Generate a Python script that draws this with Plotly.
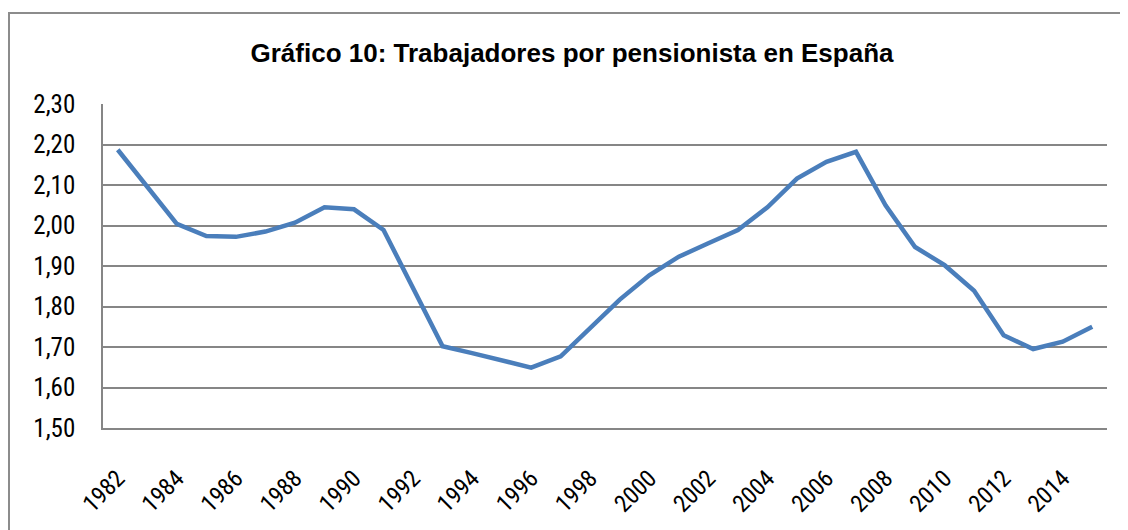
import plotly.graph_objects as go

years = [str(y) for y in range(1982, 2016)]
values = [2.187, 2.096, 2.004, 1.974, 1.972, 1.985, 2.007, 2.045, 2.040, 1.989,
          1.846, 1.702, 1.685, 1.667, 1.649, 1.677, 1.746, 1.817, 1.877, 1.923,
          1.956, 1.989, 2.045, 2.116, 2.157, 2.182, 2.050, 1.947, 1.902, 1.839,
          1.729, 1.695, 1.713, 1.750]
tick_years = [str(y) for y in range(1982, 2016, 2)]
title_text = "Gráfico 10: Trabajadores por pensionista en España"

FONT = "Liberation Sans Narrow, Arial Narrow, Roboto Condensed, Liberation Sans, sans-serif"
TITLE_FONT = "Liberation Sans, Arial, sans-serif"

fig = go.Figure()
fig.add_trace(go.Scatter(
    x=years, y=values, mode="lines",
    line=dict(color="#4a7ebb", width=4.5),
    hoverinfo="x+y", showlegend=False,
))

# page body adds an 8px margin, so the figure is sized/positioned to compensate
W, H = 1120, 522
L, R, T, B = 95, 21, 96, 102
pw, ph = W - L - R, H - T - B

fig.update_layout(
    width=W, height=H,
    margin=dict(l=L, r=R, t=T, b=B),
    paper_bgcolor="white", plot_bgcolor="white",
    separators=",.",
    font=dict(family=FONT, color="#000000", size=25),
    title=dict(text="<b>" + title_text + "</b>", x=(572 - 8) / W, xanchor="center",
               y=1 - 45 / H, yanchor="middle",
               font=dict(family=TITLE_FONT, size=26, color="#000000")),
    xaxis=dict(
        type="category", tickmode="array", tickvals=tick_years, ticktext=tick_years,
        tickangle=-45, showgrid=False, showline=True, linecolor="#868686", linewidth=1.5,
        ticks="", ticklabelstandoff=25, tickfont=dict(size=24),
        range=[-0.5, len(years) - 0.5],
    ),
    yaxis=dict(
        range=[1.5, 2.3], dtick=0.1, tick0=1.5, tickformat=".2f",
        showgrid=True, gridcolor="#868686", gridwidth=1.5,
        showline=True, linecolor="#868686", linewidth=1.5,
        zeroline=False, ticks="", ticklabelstandoff=21, tickfont=dict(size=25),
    ),
    shapes=[dict(
        type="rect", xref="paper", yref="paper",
        x0=(1 - L) / pw, x1=(W + 5 - L) / pw,
        y0=-(B + 10) / ph, y1=(ph + T - 5) / ph,
        line=dict(color="#8c8c8c", width=2), fillcolor="rgba(0,0,0,0)", layer="below",
    )],
)

fig.write_html("out.html")
